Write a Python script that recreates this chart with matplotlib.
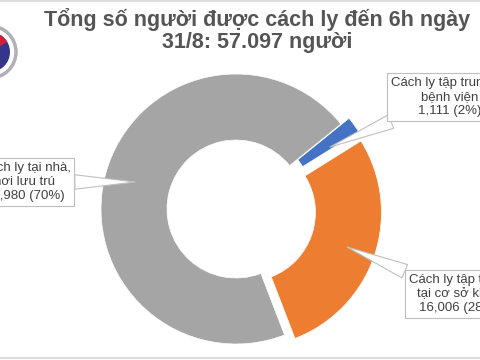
import matplotlib.pyplot as plt
import matplotlib.patches as mpatches

# data
labels = ["Cách ly tập trung tại\nbệnh viện", "Cách ly tập trung\ntại cơ sở khác", "Cách ly tại nhà,\nnơi lưu trú"]
counts = [1111, 16006, 39980]
percents = [2, 28, 70]
colors = ["#4472C4", "#ED7D31", "#A5A5A5"]
title = "Tổng số người được cách ly đến 6h ngày\n31/8: 57.097 người"

plt.rcParams['font.family'] = ['Liberation Sans', 'DejaVu Sans']

fig = plt.figure(figsize=(4.8, 3.6), dpi=100)
ax = fig.add_axes([0, 0, 1, 1])

# donut, pixel-like coords (y up)
ax.pie(counts, colors=colors, startangle=39, counterclock=False,
       radius=135, center=(236, 151), explode=[10, 11, 0],
       wedgeprops=dict(width=66, edgecolor='white', linewidth=0.5))
ax.set_xlim(0, 480)
ax.set_ylim(0, 360)
ax.set_aspect('equal')
ax.axis('off')

# callouts
pos = [(450, 263), (459, 66), (25, 178)]
tips = [(330, 213), (347, 113), (135, 178)]
for lab, c, p, t, xy in zip(labels, counts, percents, pos, tips):
    txt = "{}\n{:,} ({}%)".format(lab, c, p)
    ax.annotate(txt, xy=xy, xytext=t, ha='center', va='center',
                fontsize=9.5, color='#404040', linespacing=1.25,
                bbox=dict(boxstyle='square,pad=0.3', fc='white', ec='#BFBFBF', lw=0.8),
                arrowprops=dict(arrowstyle='wedge,tail_width=1.1', fc='white',
                                ec='#BFBFBF', lw=0.8, shrinkA=0, shrinkB=0))

# title
fig.text(0.535, 0.915, title, ha='center', va='center', fontsize=15.5,
         fontweight='bold', color='#555555', linespacing=1.1)

# logo (partly off the left edge)
ax.add_patch(mpatches.Circle((-10, 308), 26, fc='none', ec='#B0B0B8', lw=2.5))
ax.add_patch(mpatches.Circle((-10, 308), 20, fc='#35358A', ec='none'))
ax.add_patch(mpatches.Wedge((-10, 308), 20, 30, 150, fc='#D0213A', ec='none'))

# frame lines
ax.plot([0, 480], [359, 359], color='#DDDDDD', lw=1.5)
ax.plot([0, 480], [2, 2], color='#DDDDDD', lw=1.5)

fig.savefig('out.png', dpi=100)
